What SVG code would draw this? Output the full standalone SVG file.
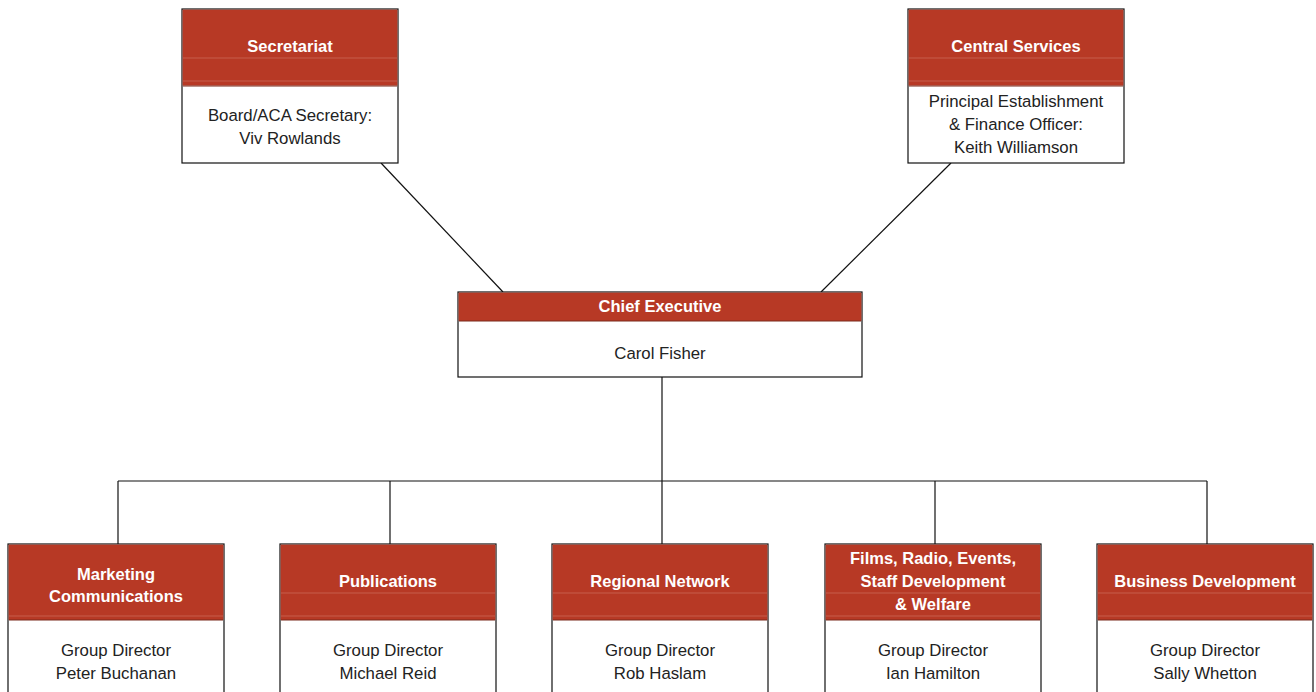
<svg xmlns="http://www.w3.org/2000/svg" width="1316" height="692" viewBox="0 0 1316 692">
<style>
.box{fill:#fff;stroke:#111;stroke-width:1.2}
.hdr{fill:#B73925}
.hl{stroke:#C65F4C;stroke-width:1}
.hb{stroke:#7a2a1c;stroke-width:1}
.ht{font-family:"Liberation Sans",Arial,sans-serif;font-weight:bold;font-size:16.5px;fill:#fff;text-anchor:middle}
.bt{font-family:"Liberation Sans",Arial,sans-serif;font-size:16.8px;fill:#222;text-anchor:middle}
.conn{stroke:#111;stroke-width:1.2;fill:none}
</style>
<rect width="1316" height="692" fill="#fff"/>
<g id="connectors" class="conn">
<line x1="381" y1="163" x2="503" y2="292"/>
<line x1="951" y1="163" x2="821" y2="292"/>
<line x1="662" y1="377" x2="662" y2="481"/>
<line x1="118" y1="481" x2="1207" y2="481"/>
<line x1="118" y1="481" x2="118" y2="544"/>
<line x1="390" y1="481" x2="390" y2="544"/>
<line x1="662" y1="481" x2="662" y2="544"/>
<line x1="935" y1="481" x2="935" y2="544"/>
<line x1="1207" y1="481" x2="1207" y2="544"/>
</g>
<g id="secretariat">
<rect class="box" x="182" y="9" width="216" height="154"/>
<rect class="hdr" x="182.6" y="9.6" width="214.8" height="76"/>
<line class="hl" x1="183" y1="58" x2="397" y2="58"/>
<line class="hl" x1="183" y1="81" x2="397" y2="81"/>
<line class="hb" x1="183" y1="86" x2="397" y2="86"/>
<text class="ht" x="290" y="52">Secretariat</text>
<text class="bt" x="290" y="121">Board/ACA Secretary:</text>
<text class="bt" x="290" y="144">Viv Rowlands</text>
</g>
<g id="central-services">
<rect class="box" x="908" y="9" width="216" height="154"/>
<rect class="hdr" x="908.6" y="9.6" width="214.8" height="76"/>
<line class="hl" x1="909" y1="58" x2="1123" y2="58"/>
<line class="hl" x1="909" y1="81" x2="1123" y2="81"/>
<line class="hb" x1="909" y1="86" x2="1123" y2="86"/>
<text class="ht" x="1016" y="52">Central Services</text>
<text class="bt" x="1016" y="107">Principal Establishment</text>
<text class="bt" x="1016" y="130">&amp; Finance Officer:</text>
<text class="bt" x="1016" y="153">Keith Williamson</text>
</g>
<g id="chief-executive">
<rect class="box" x="458" y="292" width="404" height="85"/>
<rect class="hdr" x="458.6" y="292.6" width="402.8" height="28.4"/>
<line class="hb" x1="459" y1="321" x2="861" y2="321"/>
<text class="ht" x="660" y="312">Chief Executive</text>
<text class="bt" x="660" y="359">Carol Fisher</text>
</g>
<g id="marketing">
<rect class="box" x="8" y="544" width="216" height="160"/>
<rect class="hdr" x="8.6" y="544.6" width="214.8" height="75.4"/>
<line class="hl" x1="9" y1="616" x2="223" y2="616"/>
<line class="hb" x1="9" y1="620" x2="223" y2="620"/>
<text class="ht" x="116" y="580">Marketing</text>
<text class="ht" x="116" y="602">Communications</text>
<text class="bt" x="116" y="656">Group Director</text>
<text class="bt" x="116" y="679">Peter Buchanan</text>
</g>
<g id="publications">
<rect class="box" x="280" y="544" width="216" height="160"/>
<rect class="hdr" x="280.6" y="544.6" width="214.8" height="75.4"/>
<line class="hl" x1="281" y1="593" x2="495" y2="593"/>
<line class="hl" x1="281" y1="616" x2="495" y2="616"/>
<line class="hb" x1="281" y1="620" x2="495" y2="620"/>
<text class="ht" x="388" y="587">Publications</text>
<text class="bt" x="388" y="656">Group Director</text>
<text class="bt" x="388" y="679">Michael Reid</text>
</g>
<g id="regional-network">
<rect class="box" x="552" y="544" width="216" height="160"/>
<rect class="hdr" x="552.6" y="544.6" width="214.8" height="75.4"/>
<line class="hl" x1="553" y1="593" x2="767" y2="593"/>
<line class="hl" x1="553" y1="616" x2="767" y2="616"/>
<line class="hb" x1="553" y1="620" x2="767" y2="620"/>
<text class="ht" x="660" y="587">Regional Network</text>
<text class="bt" x="660" y="656">Group Director</text>
<text class="bt" x="660" y="679">Rob Haslam</text>
</g>
<g id="films-radio">
<rect class="box" x="825" y="544" width="216" height="160"/>
<rect class="hdr" x="825.6" y="544.6" width="214.8" height="75.4"/>
<line class="hl" x1="826" y1="593" x2="1040" y2="593"/>
<line class="hl" x1="826" y1="616" x2="1040" y2="616"/>
<line class="hb" x1="826" y1="620" x2="1040" y2="620"/>
<text class="ht" x="933" y="564">Films, Radio, Events,</text>
<text class="ht" x="933" y="587">Staff Development</text>
<text class="ht" x="933" y="610">&amp; Welfare</text>
<text class="bt" x="933" y="656">Group Director</text>
<text class="bt" x="933" y="679">Ian Hamilton</text>
</g>
<g id="business-development">
<rect class="box" x="1097" y="544" width="216" height="160"/>
<rect class="hdr" x="1097.6" y="544.6" width="214.8" height="75.4"/>
<line class="hl" x1="1098" y1="593" x2="1312" y2="593"/>
<line class="hl" x1="1098" y1="616" x2="1312" y2="616"/>
<line class="hb" x1="1098" y1="620" x2="1312" y2="620"/>
<text class="ht" x="1205" y="587">Business Development</text>
<text class="bt" x="1205" y="656">Group Director</text>
<text class="bt" x="1205" y="679">Sally Whetton</text>
</g>
</svg>
